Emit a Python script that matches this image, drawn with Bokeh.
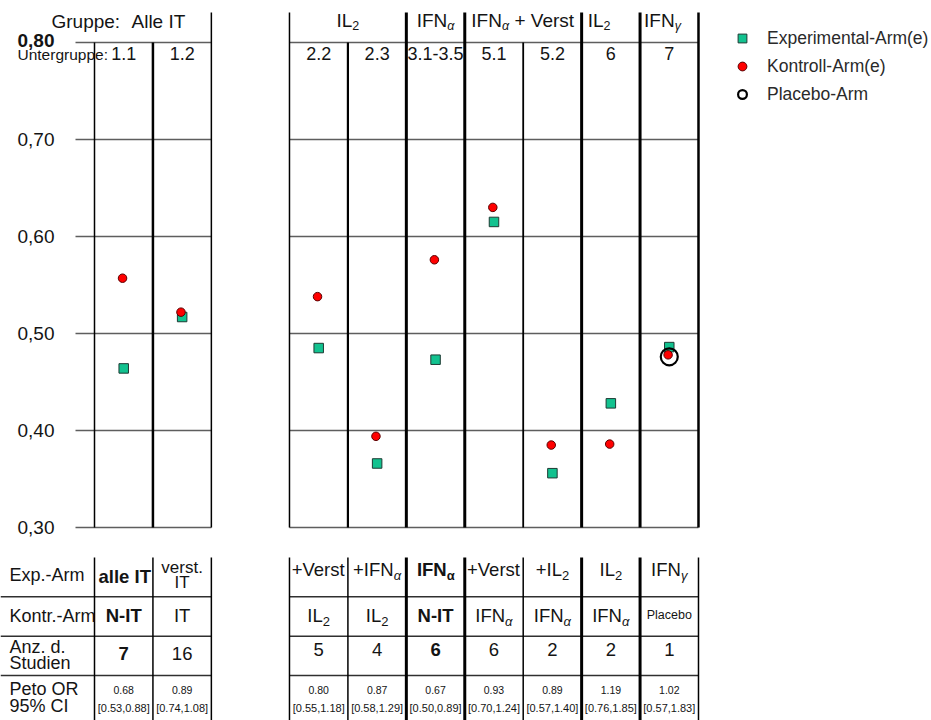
import re
from bokeh.plotting import figure
from bokeh.models import Range1d, Legend, LegendItem, ColumnDataSource
from bokeh.core.properties import value
from bokeh.embed import file_html
from bokeh.resources import INLINE

FONT = "Liberation Sans"
INK = "#141414"
GRID = "#5e5e5e"
GREEN = "#12c28f"
RED = "#ff0000"

# ---------------- data ----------------
subgroups = ["1.1", "1.2", "2.2", "2.3", "3.1-3.5", "5.1", "5.2", "6", "7"]
exp_rate = [0.464, 0.517, 0.485, 0.366, 0.473, 0.615, 0.356, 0.428, 0.486]
ctrl_rate = [0.557, 0.522, 0.538, 0.394, 0.576, 0.630, 0.385, 0.386, 0.478]
placebo_sub = ["7"]
placebo_rate = [0.476]

y_ticks = [0.30, 0.40, 0.50, 0.60, 0.70, 0.80]
y_tick_labels = ["0,30", "0,40", "0,50", "0,60", "0,70", "0,80"]

group_prefix = "Gruppe:"
first_group = "Alle IT"
subgroup_prefix = "Untergruppe:"
group_labels = ["IL{2}", "IFN{α}", "IFN{α} + Verst", "IL{2}", "IFN{γ}"]
group_first = ["2.2", "3.1-3.5", "5.1", "6", "7"]
group_last = ["2.3", "3.1-3.5", "5.2", "6", "7"]

row_labels = [["Exp.-Arm"], ["Kontr.-Arm"], ["Anz. d.", "Studien"], ["Peto OR", "95% CI"]]
exp_arm = ["alle IT", "verst.|IT", "+Verst", "+IFN{α}", "IFN{α}", "+Verst", "+IL{2}", "IL{2}", "IFN{γ}"]
ctrl_arm = ["N-IT", "IT", "IL{2}", "IL{2}", "N-IT", "IFN{α}", "IFN{α}", "IFN{α}", "Placebo"]
n_studies = [7, 16, 5, 4, 6, 6, 2, 2, 1]
peto_or = [0.68, 0.89, 0.80, 0.87, 0.67, 0.93, 0.89, 1.19, 1.02]
ci_low = [0.53, 0.74, 0.55, 0.58, 0.50, 0.70, 0.57, 0.76, 0.57]
ci_high = [0.88, 1.08, 1.18, 1.29, 0.89, 1.24, 1.40, 1.85, 1.83]
bold_subgroups = ["1.1", "3.1-3.5"]

# ---------------- layout (canvas pixels) ----------------
W, H = 931, 720
COL_PX = 58.43          # width of one subgroup column
X0_PX = 94              # x of the left edge of column 1.1
RIGHT_START = 3.337     # right block starts here (column units)
Y_PX = 970.0            # pixels per rate unit
Y80_PX = 42             # y of 0.80
ROW_PX = 39.33          # table row height
TABLE_TOP_PX = 557

n_cols = len(subgroups)
lefts = [i if i < 2 else RIGHT_START + (i - 2) for i in range(n_cols)]
centers = [l + 0.5 for l in lefts]
cidx = {s: i for i, s in enumerate(subgroups)}

ADV = {' ': .278, '+': .584, 'I': .278, 'L': .556, 'F': .611, 'N': .722, 'V': .667,
       'e': .556, 'r': .333, 's': .5, 't': .278, 'α': .58, 'γ': .5, '-': .333,
       'T': .611, '.': .278, ',': .278, '[': .278, ']': .278, 'l': .222, 'a': .556,
       'v': .5, 'P': .667, 'c': .5, 'b': .556, 'o': .556}
SEG = re.compile(r"\{([^}]*)\}|([^{]+)")


def text_w(s, size):
    return sum(ADV.get(c, 0.556) for c in s) * size


def ry(py):       # canvas y -> rate
    return 0.80 + (Y80_PX - py) / Y_PX


def cx(px):       # canvas x -> column units
    return (px - X0_PX) / COL_PX


def trow(py):     # canvas y -> table row units
    return (py - TABLE_TOP_PX) / ROW_PX


p = figure(width=W, height=H, output_backend="svg", toolbar_location=None, title=None,
           x_axis_location=None, y_axis_location=None,
           x_range=Range1d(cx(0), cx(W)), y_range=Range1d(ry(H), ry(0)),
           min_border_left=0, min_border_right=0, min_border_top=0, min_border_bottom=0)
p.extra_y_ranges = {"table": Range1d(trow(H), trow(0))}
p.outline_line_color = None
p.background_fill_color = "white"
p.xgrid.grid_line_color = None
p.ygrid.grid_line_color = None


def rich(x, y, label, size, sub_dy, align="center", bold=False, pad=0,
         color=INK, sub_size=None, yr="default"):
    """Text with {subscript} parts; y is the vertical centre of the main text."""
    sub_size = sub_size or round(size * 0.68)
    segs = [(m.group(1), True) if m.group(1) is not None else (m.group(2), False)
            for m in SEG.finditer(label)]
    widths = [text_w(t, sub_size if s else size) for t, s in segs]
    off = -sum(widths) / 2 if align == "center" else pad
    for (t, s), w in zip(segs, widths):
        fs = sub_size if s else size
        lead = len(t) - len(t.lstrip(" "))
        style = "bold" if bold else ("italic" if s and not t.isdigit() else "normal")
        p.text(x=[x], y=[y + (sub_dy if s else 0)], text=[t.strip(" ")],
               x_offset=off + lead * ADV[' '] * fs,
               text_align="left", text_baseline="middle", y_range_name=yr,
               text_font=value(FONT), text_font_size=f"{fs}px",
               text_font_style=style, text_color=color)
        off += w


# ---------- rate panel ----------
p.text(x=[cx(54)] * 5, y=y_ticks[:-1], text=y_tick_labels[:-1], text_align="right",
       text_baseline="middle", text_font=value(FONT), text_font_size="19px",
       text_color=INK)
p.text(x=[cx(54)], y=[y_ticks[-1] + 2 / Y_PX], text=[y_tick_labels[-1]],
       text_align="right", text_baseline="middle", text_font=value(FONT),
       text_font_size="19px", text_font_style="bold", text_color=INK)

# horizontal grid lines (two blocks)
gx0, gx1, gy = [], [], []
for t in y_ticks:
    gx0 += [cx(75), RIGHT_START]
    gx1 += [2, RIGHT_START + 7]
    gy += [t, t]
p.segment(x0=gx0, y0=gy, x1=gx1, y1=gy, line_color=GRID, line_width=1.6)

# vertical column lines
bounds = [0, 1, 2] + [RIGHT_START + k for k in range(8)]
plot_lw = [1.5, 2.5, 1.5, 1.5, 2.2, 3, 3, 1.8, 3, 3, 2.5]
reach_top = [False, False, True, True, False, True, True, False, True, True, True]
HDR_TOP = ry(12)
vsrc = ColumnDataSource(dict(x=bounds, y0=[y_ticks[0]] * len(bounds),
                             y1=[HDR_TOP if r else y_ticks[-1] for r in reach_top],
                             w=plot_lw))
p.segment(x0="x", y0="y0", x1="x", y1="y1", line_width="w", line_color="black",
          source=vsrc)

# header texts
HDR_SUB = -5 / Y_PX
rich(cx(51), ry(20.5), group_prefix, 19, 0, align="left")
rich(cx(131), ry(20.5), first_group, 19, 0, align="left")
rich(cx(17), ry(53.5), subgroup_prefix, 15.5, 0, align="left")
group_align = ["center", "center", "center", "left", "left"]
group_pad = [0, 0, 0, 6, 4]
for lab, a, b, al, pd in zip(group_labels, group_first, group_last, group_align, group_pad):
    i, j = cidx[a], cidx[b]
    gxp = (lefts[i] + lefts[j] + 1) / 2 if al == "center" else lefts[i]
    rich(gxp, ry(20), lab, 19, HDR_SUB, align=al, pad=pd, sub_size=12.5)
p.text(x=centers, y=[ry(53)] * n_cols, text=subgroups, text_align="center",
       text_baseline="middle", text_font=value(FONT), text_font_size="18px",
       text_color=INK)

# points
r_exp = p.scatter(x=centers, y=exp_rate, marker="square", size=9.5,
                  fill_color=GREEN, line_color="#1d3a33", line_width=1)
r_pla = p.scatter(x=[centers[cidx[s]] for s in placebo_sub], y=placebo_rate,
                  marker="circle", size=17, fill_color=None, line_color="black",
                  line_width=2.2)
r_ctl = p.scatter(x=[c - 0.02 for c in centers], y=ctrl_rate, marker="circle",
                  size=8.5, fill_color=RED, line_color="#5a0000", line_width=1)

legend = Legend(items=[LegendItem(label="Experimental-Arm(e)", renderers=[r_exp]),
                       LegendItem(label="Kontroll-Arm(e)", renderers=[r_ctl]),
                       LegendItem(label="Placebo-Arm", renderers=[r_pla])],
                location=(731, H - 105), orientation="vertical",
                padding=0, margin=0, spacing=6, glyph_width=22, glyph_height=22,
                label_height=22, label_standoff=14, label_text_font=FONT,
                label_text_font_size="17.5px", label_text_color="#2a2a2a",
                label_text_baseline="middle", background_fill_alpha=0,
                border_line_color=None)
p.add_layout(legend)

# ---------- table ----------
hx0, hx1, hy = [], [], []
for r in (1, 2, 3):
    hx0 += [cx(0), RIGHT_START]
    hx1 += [2, RIGHT_START + 7]
    hy += [r, r]
p.segment(x0=hx0, y0=hy, x1=hx1, y1=hy, line_color="#303030", line_width=1.5,
          y_range_name="table")
table_lw = [1.5, 1.5, 1.5, 1.5, 1.5, 3, 3, 1.5, 3, 3, 1.5]
tsrc = ColumnDataSource(dict(x=bounds, y0=[0] * len(bounds), y1=[4.3] * len(bounds),
                             w=table_lw))
p.segment(x0="x", y0="y0", x1="x", y1="y1", line_width="w", line_color="black",
          source=tsrc, y_range_name="table")

SUBDY = 6 / ROW_PX
lab_x = cx(9)
row_label_mid = [[trow(574)], [trow(615)], [trow(646), trow(662)], [trow(688.5), trow(705)]]
for lines, mids in zip(row_labels, row_label_mid):
    for t, m in zip(lines, mids):
        rich(lab_x, m, t, 18, SUBDY, align="left", yr="table")

for i, s in enumerate(subgroups):
    x = centers[i]
    left_block = i < 2
    bold = s in bold_subgroups
    # row 0: experimental arm
    parts = exp_arm[i].split("|")
    if len(parts) == 1:
        rich(x, trow(576 if left_block else 569), parts[0], 18.5, SUBDY, bold=bold,
             yr="table")
    else:
        for t, m in zip(parts, [trow(567), trow(582)]):
            rich(x, m, t, 17, SUBDY, bold=bold, yr="table")
    # row 1: control arm
    if ctrl_arm[i] == "Placebo":
        rich(x, trow(614), ctrl_arm[i], 12.5, SUBDY, yr="table")
    else:
        rich(x, trow(615), ctrl_arm[i], 18.5, SUBDY, bold=bold, yr="table")
    # row 2: number of studies
    rich(x, trow(652.5 if left_block else 648.5), str(n_studies[i]), 18.5, SUBDY,
         bold=bold, yr="table")
    # row 3: Peto OR and CI
    rich(x, trow(689), f"{peto_or[i]:.2f}", 10.5, SUBDY, yr="table")
    rich(x, trow(707), f"[{ci_low[i]:.2f},{ci_high[i]:.2f}]", 11, SUBDY, yr="table")

open("out.html", "w").write(file_html(p, INLINE))
